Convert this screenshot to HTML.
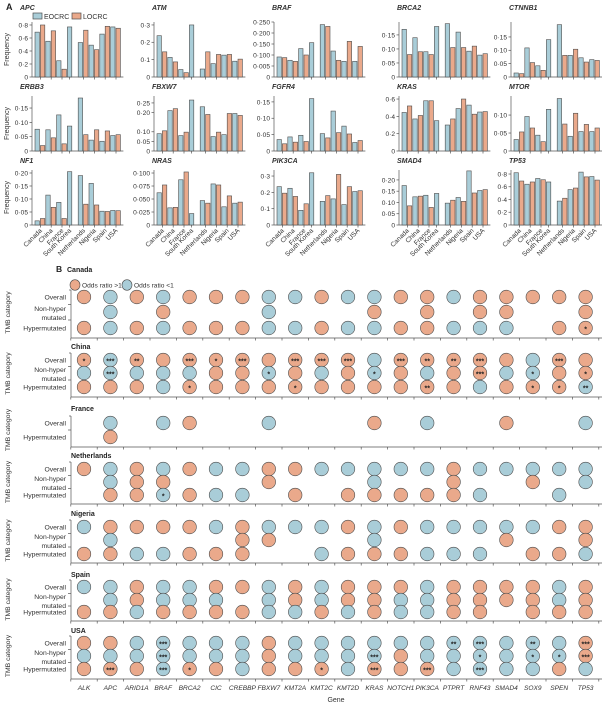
<!DOCTYPE html>
<html><head><meta charset="utf-8"><style>
html,body{margin:0;padding:0;background:#fff;}
svg{display:block;font-family:"Liberation Sans",sans-serif;}
</style></head><body>
<svg id="fig" width="602" height="709" viewBox="0 0 602 709" xmlns="http://www.w3.org/2000/svg"></svg>
<script>
// ---------- Panel A data ----------
const countries = ["Canada","China","France","South Korea","Netherlands","Nigeria","Spain","USA"];
const apcEarly = [.69,.55,.25,.77,.53,.49,.66,.77];
const apcLate  = [.80,.71,.12,null,.72,.42,.78,.75];
const atmEarly = [.238,.113,.043,.30,.046,.077,.126,.091];
const atmLate  = [.145,.087,.025,null,.145,.13,.13,.103];
const brafEarly = [.091,.076,.129,.156,.238,.118,.071,.071];
const brafLate  = [.088,.071,.10,null,.23,.076,.162,.139];
const brca2Early = [.17,.14,.09,.18,.19,.16,.092,.078];
const brca2Late  = [.08,.09,.08,null,.105,.105,.11,.083];
const ctnnb1Early = [.015,.109,.042,.14,.196,.081,.072,.065];
const ctnnb1Late  = [.0125,.054,.025,null,.081,.104,.056,.062];
const erbb3Early = [.076,.074,.126,.087,.185,.038,.034,.054];
const erbb3Late  = [.019,.046,.025,null,.057,.074,.07,.057];
const fbxw7Early = [.09,.21,.08,.265,.23,.075,.085,.195];
const fbxw7Late  = [.105,.22,.098,null,.19,.098,.195,.185];
const fgfr4Early = [.035,.043,.048,.16,.053,.122,.076,.026];
const fgfr4Late  = [.022,.027,.029,null,.04,.056,.052,.032];
const krasEarly = [.445,.37,.58,.35,.30,.49,.53,.45];
const krasLate  = [.52,.41,.58,null,.37,.60,.425,.455];
const mtorEarly = [.032,.096,.044,.116,.146,.041,.054,.054];
const mtorLate  = [.053,.064,.026,null,.075,.105,.074,.064];
const nf1Early = [.016,.115,.087,.205,.19,.16,.053,.056];
const nf1Late  = [.025,.068,.025,null,.08,.077,.052,.055];
const nrasEarly = [.062,.033,.087,.022,.047,.079,.035,.042];
const nrasLate  = [.077,.034,.102,null,.042,.077,.056,.044];
const pik3caEarly = [.235,.225,.09,.32,.145,.16,.125,.205];
const pik3caLate  = [.195,.175,.13,null,.18,.31,.235,.21];
const smad4Early = [.175,.125,.132,.14,.097,.122,.24,.153];
const smad4Late  = [.085,.128,.078,null,.11,.105,.142,.157];
const tp53Early = [.82,.64,.73,.675,.375,.555,.83,.76];
const tp53Late  = [.69,.675,.71,null,.42,.58,.755,.705];

// ---------- Panel B data ----------
const genes = ["ALK","APC","ARID1A","BRAF","BRCA2","CIC","CREBBP","FBXW7","KMT2A","KMT2C","KMT2D","KRAS","NOTCH1","PIK3CA","PTPRT","RNF43","SMAD4","SOX9","SPEN","TP53"];
const rowLabels = ["Overall","Non-hyper mutated","Hypermutated"];
const canadaOverall = "o b o b o o o b b o b b o o b o o o o o".split(" ");
const canadaNonHyper = "- b - o - - - b - - - o - o - o o - - o".split(" ");
const canadaHyper = "o b o b o o o b b o b b o o b b b - o o1".split(" ");
const chinaOverall = "o1 b3 o2 o o3 o1 o3 o o3 o3 o3 b o3 o2 o2 o3 o b o3 o".split(" ");
const chinaNonHyper = "b b3 b b b o o b1 o b o b1 o b o o3 b b1 o o1".split(" ");
const chinaHyper = "o o o b o1 o o o o1 o o o o o2 o b o o1 o1 b2".split(" ");
const franceOverall = "- b - b o - - b - - - o - b - - o - - b".split(" ");
const franceHyper = "- o - - - - - - - - - - - - - - - - - -".split(" ");
const nethOverall = "o b o b o b b o o b b b b b o b b b b b".split(" ");
const nethNonHyper = "- b o o - - - o - - - b - - o - - o - b".split(" ");
const nethHyper = "- o o b1 o b b - o - o o o o o b - - b -".split(" ");
const nigeriaOverall = "b o o o o b o b b b o b o b b b b b o o".split(" ");
const nigeriaNonHyper = "- b - - - - o o - - - b - - - - o - - o".split(" ");
const nigeriaHyper = "o o b b o o o - - b o o o b b b - o o b".split(" ");
const spainOverall = "b b o b b o o b o b o o o b o o o o b o".split(" ");
const spainNonHyper = "- b o b b b - b o b o o b b o o o o b o".split(" ");
const spainHyper = "o o b o o o o b b o b o b b o o - o o o".split(" ");
const usaOverall = "o o b b3 b b b o b b b b b b b2 b3 b b2 b o3".split(" ");
const usaNonHyper = "b b b b3 b b b o b b b b3 o b b b1 b b1 b1 o3".split(" ");
const usaHyper = "o o3 o b3 o1 o b o o o1 b o3 o o3 b b3 b b o b".split(" ");

const NS = "http://www.w3.org/2000/svg";
const svg = document.getElementById("fig");
const BLUE = "#a9cdd8", ORANGE = "#eaa98b", EDGE = "#4d4d4d", AX = "#555";
function mk(tag, attrs, parent) {
  const e = document.createElementNS(NS, tag);
  for (const k in attrs) e.setAttribute(k, attrs[k]);
  (parent || svg).appendChild(e);
  return e;
}
function txt(s, attrs, parent) { const t = mk("text", attrs, parent); t.textContent = s; return t; }

let t = txt("A", {x: 6, y: 10, "font-size": 9, "font-weight": "bold", fill: "#222"});


const legA = mk("g", {});


mk("rect", {x: 33, y: 13, width: 9, height: 6, fill: BLUE, stroke: EDGE, "stroke-width": .7}, legA);
txt("EOCRC", {x: 44, y: 19, "font-size": 7, fill: "#333"}, legA);
mk("rect", {x: 72, y: 13, width: 9, height: 6, fill: ORANGE, stroke: EDGE, "stroke-width": .7}, legA);
txt("LOCRC", {x: 83, y: 19, "font-size": 7, fill: "#333"}, legA);

const charts = [
  {g:"APC", e:apcEarly, l:apcLate, D:.846, tv:[.8,.6,.4,.2,0], tl:["0·8","0·6","0·4","0·2","0"]},
  {g:"ATM", e:atmEarly, l:atmLate, D:.317, tv:[.3,.2,.1,0], tl:["0·3","0·2","0·1","0"]},
  {g:"BRAF", e:brafEarly, l:brafLate, D:.25, tv:[.25,.2,.15,.1,.05,0], tl:["0·250","0·200","0·150","0·100","0·005","0"]},
  {g:"BRCA2", e:brca2Early, l:brca2Late, D:.196, tv:[.15,.1,.05,0], tl:["0·15","0·10","0·05","0"]},
  {g:"CTNNB1", e:ctnnb1Early, l:ctnnb1Late, D:.206, tv:[.15,.1,.05,0], tl:["0·15","0·10","0·05","0"]},
  {g:"ERBB3", e:erbb3Early, l:erbb3Late, D:.192, tv:[.15,.1,.05,0], tl:["0·15","0·10","0·05","0"]},
  {g:"FBXW7", e:fbxw7Early, l:fbxw7Late, D:.286, tv:[.25,.2,.1,.05,0], tl:["0·25","0·20","0·10","0·05","0"]},
  {g:"FGFR4", e:fgfr4Early, l:fgfr4Late, D:.168, tv:[.15,.1,.05,0], tl:["0·15","0·10","0·05","0"]},
  {g:"KRAS", e:krasEarly, l:krasLate, D:.635, tv:[.6,.4,.2,0], tl:["0·6","0·4","0·2","0"]},
  {g:"MTOR", e:mtorEarly, l:mtorLate, D:.153, tv:[.1,.05,0], tl:["0·10","0·05","0"]},
  {g:"NF1", e:nf1Early, l:nf1Late, D:.2115, tv:[.2,.15,.1,.05,0], tl:["0·20","0·15","0·10","0·05","0"]},
  {g:"NRAS", e:nrasEarly, l:nrasLate, D:.1058, tv:[.1,.075,.05,.025,0], tl:["0·100","0·075","0·050","0·025","0"]},
  {g:"PIK3CA", e:pik3caEarly, l:pik3caLate, D:.337, tv:[.3,.2,.1,0], tl:["0·3","0·2","0·1","0"]},
  {g:"SMAD4", e:smad4Early, l:smad4Late, D:.244, tv:[.2,.15,.1,.05,0], tl:["0·20","0·15","0·10","0·05","0"]},
  {g:"TP53", e:tp53Early, l:tp53Late, D:.863, tv:[.8,.6,.4,.2,0], tl:["0·8","0·6","0·4","0·2","0"]}
];
const colX = [32,154,274,399,511];
const rowBottom = [77,151,225];
const titleY = [10,89,163];
const PH = 55, SLOT = 5.4, BW = 4.4, OFF = 3;
function slotOf(i){ return i < 3 ? 2*i : (i === 3 ? 6 : 8 + 2*(i-4)); }

charts.forEach((c, idx) => {
  const col = idx % 5, row = Math.floor(idx / 5);
  const x0 = colX[col], yb = rowBottom[row];
  const yS = v => yb - v / c.D * PH;
  const xS = s => x0 + OFF + s * SLOT;
  const g = mk("g", {});
  
  
  let ti = txt(c.g, {x: col === 0 ? 20 : x0 - 2, y: titleY[row], "font-size": 7, "font-weight": "bold", "font-style": "italic", fill: "#333"}, g);
  
  
  mk("line", {x1: x0, y1: yb - PH, x2: x0, y2: yb, stroke: AX, "stroke-width": .7}, g);
  mk("line", {x1: x0, y1: yb, x2: x0 + OFF + 16*SLOT + 2, y2: yb, stroke: AX, "stroke-width": .7}, g);
  c.tv.forEach((v, k) => {
    mk("line", {x1: x0 - 2.5, y1: yS(v), x2: x0, y2: yS(v), stroke: AX, "stroke-width": .7}, g);
    const tl = txt(c.tl[k], {x: x0 - 4, y: yS(v) + 2.4, "font-size": 6.6, "text-anchor": "end", fill: "#333"}, g);
    
    
  });
  countries.forEach((cn, i) => {
    const s = slotOf(i);
    const tx = xS(s) + (i === 3 ? BW/2 : SLOT);
    mk("line", {x1: tx, y1: yb, x2: tx, y2: yb + 2.5, stroke: AX, "stroke-width": .7}, g);
    if (c.e[i] != null) {
      const b = mk("rect", {x: xS(s), y: yS(c.e[i]), width: BW, height: yb - yS(c.e[i]), fill: BLUE, stroke: EDGE, "stroke-width": .6}, g);
      
      
    }
    if (c.l[i] != null) {
      const b = mk("rect", {x: xS(s+1), y: yS(c.l[i]), width: BW, height: yb - yS(c.l[i]), fill: ORANGE, stroke: EDGE, "stroke-width": .6}, g);
      
      
    }
    if (row === 2) {
      const cx = tx + 2;
      const xl = txt(cn, {x: cx, y: yb + 6, "font-size": 6.6, "text-anchor": "end", fill: "#333", transform: `rotate(-45 ${cx} ${yb+6})`}, g);
      
      
    }
  });
  if (col === 0) {
    const fy = yb - PH/2;
    const f = txt("Frequency", {x: 9, y: fy, "font-size": 7, "text-anchor": "middle", fill: "#333", transform: `rotate(-90 9 ${fy})`}, g);
    
    
  }
});

// ---------- Panel B ----------
t = txt("B", {x: 56, y: 272, "font-size": 8.5, "font-weight": "bold", fill: "#222"});


const legB = mk("g", {});


mk("ellipse", {cx: 75, cy: 285, rx: 5, ry: 5.3, fill: ORANGE, stroke: EDGE, "stroke-width": .6}, legB);
txt("Odds ratio >1", {x: 82, y: 287.5, "font-size": 6.6, fill: "#333"}, legB);
mk("ellipse", {cx: 127, cy: 285, rx: 5, ry: 5.3, fill: BLUE, stroke: EDGE, "stroke-width": .6}, legB);
txt("Odds ratio <1", {x: 134, y: 287.5, "font-size": 6.6, fill: "#333"}, legB);

const sections = [
  {name:"Canada", ty:272, ys:[297,312,328], ax:338, rows:[canadaOverall,canadaNonHyper,canadaHyper]},
  {name:"China", ty:349, ys:[360,373,387], ax:397, rows:[chinaOverall,chinaNonHyper,chinaHyper]},
  {name:"France", ty:411, ys:[423,null,437], ax:447, rows:[franceOverall,null,franceHyper]},
  {name:"Netherlands", ty:458, ys:[469,482,495], ax:504, rows:[nethOverall,nethNonHyper,nethHyper]},
  {name:"Nigeria", ty:516, ys:[527,540,554], ax:563, rows:[nigeriaOverall,nigeriaNonHyper,nigeriaHyper]},
  {name:"Spain", ty:577, ys:[587,600,612], ax:621, rows:[spainOverall,spainNonHyper,spainHyper]},
  {name:"USA", ty:633, ys:[643,656,669], ax:679, rows:[usaOverall,usaNonHyper,usaHyper]}
];
const GX0 = 84, GSP = 26.4, AXL = 71;
const gx = i => GX0 + i * GSP;

sections.forEach(sec => {
  const g = mk("g", {});
  
  
  const st = txt(sec.name, {x: sec.name === "Canada" ? 67 : 71, y: sec.ty, "font-size": 7, "font-weight": "bold", fill: "#222"}, g);
  
  
  const ys = sec.ys.filter(v => v != null);
  const top = ys[0] - 7, mid = (ys[0] + ys[ys.length-1]) / 2;
  mk("line", {x1: AXL, y1: top, x2: AXL, y2: sec.ax, stroke: AX, "stroke-width": .7}, g);
  mk("line", {x1: AXL, y1: sec.ax, x2: 602, y2: sec.ax, stroke: AX, "stroke-width": .7}, g);
  mk("line", {x1: AXL - 2, y1: top, x2: AXL, y2: top, stroke: AX, "stroke-width": .7}, g);
  for (let k = 0; k < ys.length - 1; k++) {
    const yy = (ys[k] + ys[k+1]) / 2;
    mk("line", {x1: AXL - 3, y1: yy, x2: AXL, y2: yy, stroke: AX, "stroke-width": .7}, g);
  }
  for (let i = 0; i <= genes.length; i++) {
    const xx = gx(i) - GSP/2;
    mk("line", {x1: xx, y1: sec.ax, x2: xx, y2: sec.ax + 2.5, stroke: AX, "stroke-width": .7}, g);
  }
  const yt = txt("TMB category", {x: 10, y: mid, "font-size": 6.8, "text-anchor": "middle", fill: "#333", transform: `rotate(-90 10 ${mid})`}, g);
  
  
  sec.rows.forEach((arr, r) => {
    if (!arr) return;
    const y = sec.ys[r];
    if (r === 1) {
      txt("Non-hyper", {x: 66, y: y - 1, "font-size": 6.8, "text-anchor": "end", fill: "#333"}, g);
      txt("mutated", {x: 66, y: y + 8, "font-size": 6.8, "text-anchor": "end", fill: "#333"}, g);
    } else {
      txt(rowLabels[r], {x: 66, y: y + 2.4, "font-size": 6.8, "text-anchor": "end", fill: "#333"}, g);
    }
    arr.forEach((code, i) => {
      if (code === "-") return;
      const c = mk("ellipse", {cx: gx(i), cy: y, rx: 6.8, ry: 6.8, fill: code[0] === "o" ? ORANGE : BLUE, stroke: EDGE, "stroke-width": .6}, g);
      
      
      const n = code.length > 1 ? +code[1] : 0;
      if (n > 0) {
        const s = txt("*".repeat(n), {x: gx(i), y: y + 3.4, "font-size": 7, "text-anchor": "middle", fill: "#222", "font-weight": "bold"}, g);
        
        
      }
    });
  });
});
genes.forEach((gn, i) => {
  const l = txt(gn, {x: gx(i), y: 690, "font-size": 6.6, "font-style": "italic", "text-anchor": "middle", fill: "#333"});
  
  
});
t = txt("Gene", {x: 336, y: 702, "font-size": 7, "text-anchor": "middle", fill: "#333"});


</script>
</body></html>
